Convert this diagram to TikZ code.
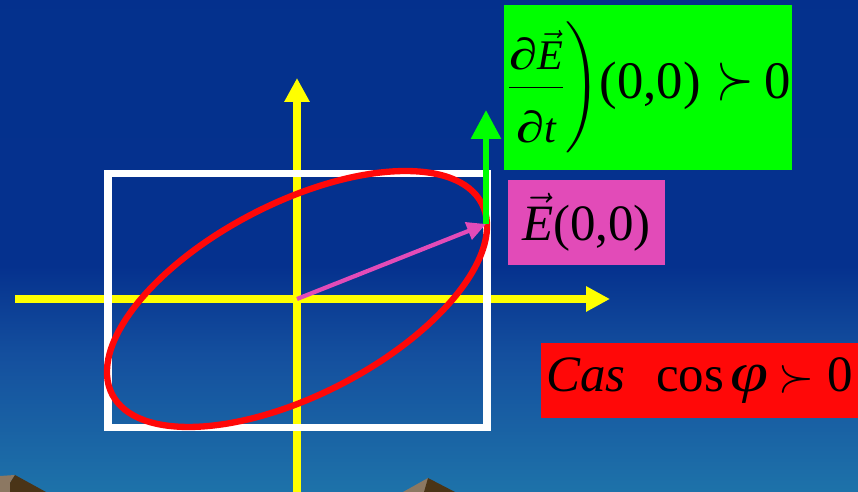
\documentclass[tikz,border=0pt]{standalone}
\usepackage{fix-cm}
\usepackage{amsmath}
\usepackage{graphicx}
\usepackage{fontspec}
\setmainfont{Liberation Serif}
\usetikzlibrary{arrows.meta, positioning}
\definecolor{skytop}{HTML}{03308C}
\definecolor{skyedge}{HTML}{05318E}
\definecolor{skymid}{HTML}{144F9E}
\definecolor{skylow}{HTML}{1B68A6}
\definecolor{skydeep}{HTML}{2185B0}
\definecolor{skybot}{HTML}{2BB1C4}
\definecolor{axisyel}{HTML}{FFFF00}
\definecolor{ellred}{HTML}{FF0808}
\definecolor{vecpink}{HTML}{E24BB8}
\definecolor{vecgreen}{HTML}{00FF00}
\definecolor{rocklt}{HTML}{8C7862}
\definecolor{rockdk}{HTML}{4A3417}
\pgfdeclareverticalshading{skyfade}{100bp}{color(0bp)=(skybot); color(18bp)=(skydeep); color(29bp)=(skylow); color(39bp)=(skymid); color(48bp)=(skyedge); color(100bp)=(skytop)}
\newcommand{\pd}{\mbox{\itshape\scalebox{1.35}[1.05]{∂}}}
\newcommand{\bigsucc}[2]{\scalebox{#1}[#2]{\fontsize{25}{25}\selectfont$\succ$}}

\begin{document}
\begin{tikzpicture}[
  x=0.02cm, y=-0.02cm,
  axis/.style={axisyel, line width=4pt, -{Triangle[length=0.48cm, width=0.48cm]}},
  eqbox/.style={inner sep=0pt, anchor=center, text=black},
]

% Dimensions (pixel units of the slide)
\pgfmathsetmacro{\ox}{297}      % origin x
\pgfmathsetmacro{\oy}{299}      % origin y
\pgfmathsetmacro{\tilt}{27.3}   % ellipse tilt

% Background
\useasboundingbox (0,0) rectangle (858,492);
\shade[shading=skyfade] (0,0) rectangle (858,492);

% Rocks at the bottom edge
\fill[rocklt] (0,476) -- (15,475) -- (10,483) -- (10,492) -- (0,492) -- cycle;
\fill[rockdk] (15,475) -- (46,492) -- (10,492) -- (10,483) -- cycle;
\fill[rocklt] (403,492) -- (428,478) -- (434,492) -- cycle;
\fill[rockdk] (428,478) -- (455,492) -- (424,492) -- cycle;

% --- Axes ---
\coordinate (O) at (\ox,\oy);
\coordinate (xstart) at (15,\oy);
\coordinate (xend) at (610,\oy);
\coordinate (ystart) at (\ox,492);
\coordinate (yend) at (\ox,78);
\draw[axis] (xstart) -- (xend);
\draw[axis] (ystart) -- (yend);

% --- Frame of the field ---
\draw[white, line width=4pt] (108,173.5) rectangle (487,427.5);

% --- Polarisation ellipse ---
\draw[ellred, line width=3.6pt, rotate around={\tilt:(O)}]
  (O) ellipse [x radius=208, y radius=96];

% --- Field vector and its time derivative ---
\coordinate (Etip) at (486,224);
\coordinate (dEtip) at (486,110);
\draw[vecgreen, line width=3.4pt, -{Triangle[length=0.58cm, width=0.58cm]}]
  (Etip) -- (dEtip);
\draw[vecpink, line width=2.4pt, -{Triangle[length=0.38cm, width=0.36cm]}]
  (O) -- (Etip);

% --- Labels ---
\node[eqbox, fill=vecgreen, minimum width=5.76cm, minimum height=3.3cm] (rate) at (648,87.5)
  {{\fontsize{24}{28}\selectfont$\left.\dfrac{\pd\vec{\mbox{\itshape E}}}{\rule{0pt}{1.15em}\pd\mbox{\itshape t}}\vphantom{\rule[-1.1cm]{0pt}{2.3cm}}\right)$}%
   {\fontsize{30}{36}\selectfont(0,0)\hspace{0.3em}\bigsucc{1.1}{1.5}\hspace{0.2em}0}};
\node[eqbox, fill=vecpink, minimum width=3.14cm, minimum height=1.7cm] (field) at (586.5,222.5)
  {\fontsize{29}{34}\selectfont$\vec{\mbox{\itshape E}}$(0,0)};
\node[eqbox, fill=ellred, minimum width=6.34cm, minimum height=1.5cm] (case) at (699.5,380.5)
  {\fontsize{29}{34}\selectfont\textit{Cas}\hspace{0.6em}cos\hspace{0.12em}\scalebox{1.35}[1.1]{\textit{φ}}\hspace{0.2em}\bigsucc{1.05}{1.1}\hspace{0.25em}0};

\end{tikzpicture}
\end{document}
